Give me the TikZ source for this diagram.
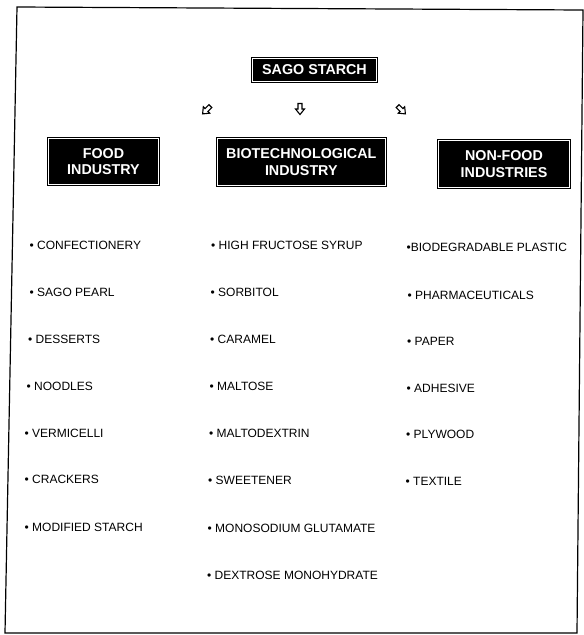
\documentclass[tikz,border=0pt]{standalone}
\usepackage{fontspec}
\setmainfont{Liberation Sans}
\begin{document}
\begin{tikzpicture}[x=1pt,y=-1pt,
  hbox/.style={draw=black, double=white, double distance=1.3pt, line width=0.8pt,
    fill=black, text=white, align=center, inner sep=0pt,
    font=\fontsize{14.3}{16.5}\selectfont\bfseries},
  item/.style={anchor=base west, inner sep=0pt, font=\fontsize{12}{14}\selectfont},
  blockarrow/.style={draw=black, line width=1.1pt, line join=miter, fill=white},
  frameline/.style={draw=black, line width=1.2pt}
]
\useasboundingbox (0,0) rectangle (584,635);

% frame
\draw[frameline] (17,7) -- (583,10) -- (577,633) -- (5,633) -- cycle;

% header boxes
\node[hbox, minimum width=124pt, minimum height=23pt] (sago) at (314.5,70) {SAGO STARCH};
\node[hbox, minimum width=110pt, minimum height=46.5pt] (food) at (103.5,161.5) {FOOD\\INDUSTRY};
\node[hbox, minimum width=168pt, minimum height=46.5pt] (bio) at (301.3,162) {BIOTECHNOLOGICAL\\INDUSTRY};
\node[hbox, minimum width=131pt, minimum height=47pt] (nonfood) at (504,164) {NON-FOOD\\INDUSTRIES};

% hollow arrows
\coordinate (a1) at (206.5,110);
\coordinate (a2) at (300,109);
\coordinate (a3) at (401.5,110);
\begin{scope}[shift={(a1)}, rotate=-45]
  \draw[blockarrow] (-2,-5.5) -- (2,-5.5) -- (2,0) -- (4.5,0) -- (0,5.5) -- (-4.5,0) -- (-2,0) -- cycle;
\end{scope}
\begin{scope}[shift={(a2)}]
  \draw[blockarrow] (-2,-5.5) -- (2,-5.5) -- (2,0) -- (4.5,0) -- (0,5.5) -- (-4.5,0) -- (-2,0) -- cycle;
\end{scope}
\begin{scope}[shift={(a3)}, rotate=45]
  \draw[blockarrow] (-2,-5.5) -- (2,-5.5) -- (2,0) -- (4.5,0) -- (0,5.5) -- (-4.5,0) -- (-2,0) -- cycle;
\end{scope}

% food industry items
\node[item] (f1) at (29.5,249.3) {\textbullet\ CONFECTIONERY};
\node[item] (f2) at (29.5,296.3) {\textbullet\ SAGO PEARL};
\node[item] (f3) at (28,343.3) {\textbullet\ DESSERTS};
\node[item] (f4) at (26.5,390.3) {\textbullet\ NOODLES};
\node[item] (f5) at (24.5,437.3) {\textbullet\ VERMICELLI};
\node[item] (f6) at (24.5,483.3) {\textbullet\ CRACKERS};
\node[item] (f7) at (24.5,531.3) {\textbullet\ MODIFIED STARCH};

% biotechnological industry items
\node[item] (b1) at (211,249.3) {\textbullet\ HIGH FRUCTOSE SYRUP};
\node[item] (b2) at (210.5,296.3) {\textbullet\ SORBITOL};
\node[item] (b3) at (210,343.3) {\textbullet\ CARAMEL};
\node[item] (b4) at (209.5,390.3) {\textbullet\ MALTOSE};
\node[item] (b5) at (209,437.3) {\textbullet\ MALTODEXTRIN};
\node[item] (b6) at (208,484.3) {\textbullet\ SWEETENER};
\node[item] (b7) at (207.5,532.3) {\textbullet\ MONOSODIUM GLUTAMATE};
\node[item] (b8) at (207,579.3) {\textbullet\ DEXTROSE MONOHYDRATE};

% non-food industries items
\node[item] (n1) at (406.5,251.3) {\textbullet BIODEGRADABLE PLASTIC};
\node[item] (n2) at (407.5,299.3) {\textbullet\ PHARMACEUTICALS};
\node[item] (n3) at (407,345.3) {\textbullet\ PAPER};
\node[item] (n4) at (406.5,392.3) {\textbullet\ ADHESIVE};
\node[item] (n5) at (406,438.3) {\textbullet\ PLYWOOD};
\node[item] (n6) at (405.5,485.3) {\textbullet\ TEXTILE};
\end{tikzpicture}
\end{document}
